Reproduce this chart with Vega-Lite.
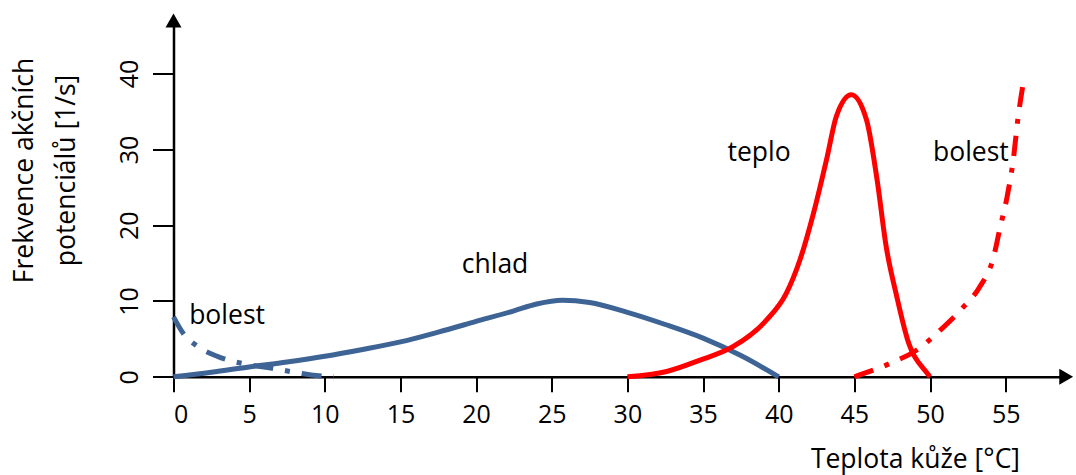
{
  "$schema": "https://vega.github.io/schema/vega-lite/v6.json",
  "autosize": "none",
  "width": 892.7,
  "height": 356.3,
  "padding": {"left": 173.5, "top": 20.5, "right": 9.8, "bottom": 98.2},
  "background": "white",
  "config": {
    "view": {"stroke": null},
    "font": "Open Sans",
    "axis": {
      "grid": false,
      "domainColor": "black",
      "domainWidth": 2.5,
      "tickColor": "black",
      "tickWidth": 2,
      "labelFont": "Open Sans",
      "labelFontSize": 25,
      "labelColor": "black",
      "titleFont": "Open Sans",
      "titleFontSize": 26.5,
      "titleFontWeight": "normal",
      "titleColor": "black"
    }
  },
  "datasets": {
    "curves": [
      {"series": "chlad", "x": 0, "y": 0},
      {"series": "chlad", "x": 2.5, "y": 0.6},
      {"series": "chlad", "x": 5, "y": 1.3},
      {"series": "chlad", "x": 7.5, "y": 1.95},
      {"series": "chlad", "x": 10, "y": 2.7},
      {"series": "chlad", "x": 12.5, "y": 3.6},
      {"series": "chlad", "x": 15, "y": 4.6},
      {"series": "chlad", "x": 17.5, "y": 5.9},
      {"series": "chlad", "x": 20, "y": 7.3},
      {"series": "chlad", "x": 22.5, "y": 8.7},
      {"series": "chlad", "x": 24, "y": 9.6},
      {"series": "chlad", "x": 25.7, "y": 10.1},
      {"series": "chlad", "x": 27.5, "y": 9.8},
      {"series": "chlad", "x": 30, "y": 8.5},
      {"series": "chlad", "x": 32.5, "y": 6.9},
      {"series": "chlad", "x": 35, "y": 5.1},
      {"series": "chlad", "x": 37.5, "y": 2.8},
      {"series": "chlad", "x": 40, "y": 0},
      {"series": "teplo", "x": 30, "y": 0},
      {"series": "teplo", "x": 32.6, "y": 0.7},
      {"series": "teplo", "x": 34.8, "y": 2.2},
      {"series": "teplo", "x": 37, "y": 4.0},
      {"series": "teplo", "x": 39.2, "y": 7.5},
      {"series": "teplo", "x": 40.5, "y": 11.0},
      {"series": "teplo", "x": 41.4, "y": 15.4},
      {"series": "teplo", "x": 42.3, "y": 21.6},
      {"series": "teplo", "x": 43.2, "y": 29.0},
      {"series": "teplo", "x": 43.8, "y": 34.3},
      {"series": "teplo", "x": 44.8, "y": 37.2},
      {"series": "teplo", "x": 45.8, "y": 33.9},
      {"series": "teplo", "x": 46.5, "y": 26.0},
      {"series": "teplo", "x": 47.1, "y": 17.2},
      {"series": "teplo", "x": 47.8, "y": 10.6},
      {"series": "teplo", "x": 48.5, "y": 5.0},
      {"series": "teplo", "x": 49.8, "y": 0.5},
      {"series": "teplo", "x": 50, "y": 0},
      {"series": "bolestHot", "x": 45, "y": 0},
      {"series": "bolestHot", "x": 47.4, "y": 1.8},
      {"series": "bolestHot", "x": 49.1, "y": 3.5},
      {"series": "bolestHot", "x": 50.7, "y": 6.2},
      {"series": "bolestHot", "x": 52.2, "y": 9.2},
      {"series": "bolestHot", "x": 53.3, "y": 11.9},
      {"series": "bolestHot", "x": 54.2, "y": 15.8},
      {"series": "bolestHot", "x": 54.6, "y": 19.4},
      {"series": "bolestHot", "x": 55.1, "y": 23.8},
      {"series": "bolestHot", "x": 55.5, "y": 28.6},
      {"series": "bolestHot", "x": 55.8, "y": 33.9},
      {"series": "bolestHot", "x": 56.2, "y": 39.2},
      {"series": "bolestCold", "x": 0, "y": 7.9},
      {"series": "bolestCold", "x": 0.65, "y": 5.7},
      {"series": "bolestCold", "x": 1.6, "y": 4.0},
      {"series": "bolestCold", "x": 2.9, "y": 2.7},
      {"series": "bolestCold", "x": 4.0, "y": 2.0},
      {"series": "bolestCold", "x": 5.3, "y": 1.5},
      {"series": "bolestCold", "x": 6.6, "y": 1.1},
      {"series": "bolestCold", "x": 7.7, "y": 0.7},
      {"series": "bolestCold", "x": 9.1, "y": 0.25},
      {"series": "bolestCold", "x": 10.6, "y": 0}
    ],
    "labels": [
      {"text": "bolest", "x": 3.54, "y": 8.0},
      {"text": "chlad", "x": 21.25, "y": 14.75},
      {"text": "teplo", "x": 38.7, "y": 29.5},
      {"text": "bolest", "x": 52.7, "y": 29.5}
    ],
    "arrows": [
      {"x": 0, "y": 47, "shape": "triangle-up"},
      {"x": 59, "y": 0, "shape": "triangle-right"}
    ]
  },
  "encoding": {
    "x": {
      "field": "x", "type": "quantitative",
      "scale": {"domain": [0, 59], "nice": false, "zero": false},
      "axis": {
        "values": [0, 5, 10, 15, 20, 25, 30, 35, 40, 45, 50, 55],
        "tickSize": 15,
        "labelPadding": 31,
        "labelBaseline": "alphabetic",
        "title": "Teplota kůže [°C]",
        "titleAnchor": null,
        "titleAlign": "right",
        "titleBaseline": "alphabetic",
        "titleX": 846,
        "titleY": 91
      }
    },
    "y": {
      "field": "y", "type": "quantitative",
      "scale": {"domain": [0, 47], "nice": false, "zero": false},
      "axis": {
        "values": [0, 10, 20, 30, 40],
        "tickSize": 21,
        "labelAngle": -90,
        "labelAlign": "center",
        "labelBaseline": "alphabetic",
        "labelPadding": 15,
        "title": ["Frekvence akčních", "potenciálů [1/s]"],
        "titleAngle": -90,
        "titleAlign": "center",
        "titleBaseline": "middle",
        "titleLineHeight": 42,
        "titleX": -149,
        "titleY": 149.5
      }
    }
  },
  "layer": [
    {
      "data": {"name": "curves"},
      "transform": [{"filter": "datum.series === 'chlad'"}],
      "mark": {"type": "line", "color": "#3E6496", "strokeWidth": 5, "interpolate": "monotone"}
    },
    {
      "data": {"name": "curves"},
      "transform": [{"filter": "datum.series === 'bolestCold'"}],
      "mark": {"type": "line", "color": "#3E6496", "strokeWidth": 5, "interpolate": "monotone", "strokeDash": [20, 12, 5, 12], "strokeCap": "butt"}
    },
    {
      "data": {"name": "curves"},
      "transform": [{"filter": "datum.series === 'teplo'"}],
      "mark": {"type": "line", "color": "#FF0000", "strokeWidth": 5, "interpolate": "monotone"}
    },
    {
      "data": {"name": "curves"},
      "transform": [{"filter": "datum.series === 'bolestHot'"}],
      "mark": {"type": "line", "color": "#FF0000", "strokeWidth": 5, "interpolate": "monotone", "strokeDash": [20, 12, 5, 12], "strokeCap": "butt"}
    },
    {
      "data": {"name": "labels"},
      "mark": {"type": "text", "font": "Open Sans", "fontSize": 26.5, "color": "black", "align": "center", "baseline": "middle"},
      "encoding": {"text": {"field": "text"}}
    },
    {
      "data": {"name": "arrows"},
      "mark": {"type": "point", "filled": true, "color": "black", "opacity": 1, "size": 256},
      "encoding": {"shape": {"field": "shape", "type": "nominal", "scale": null}}
    }
  ]
}
